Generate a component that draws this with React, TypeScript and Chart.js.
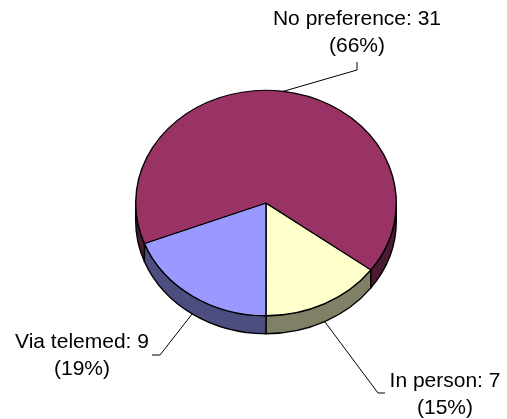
import React, { useEffect, useRef } from "react";
import { Chart, registerables } from "chart.js";

Chart.register(...registerables);

const categories = ["In person", "Via telemed", "No preference"];
const counts = [7, 9, 31];
const faceColors = ["#FFFFCC", "#9999FF", "#993366"];
const wallColors = ["#808066", "#4D4D80", "#4D1A33"];

const SQUASH = 0.865;
const DEPTH = 18;

// Leader-line elbows and label anchors, in the order of the categories.
const leaders = [
  { elbow: [378, 393], end: [385, 393], text: [445, 381] },
  { elbow: [160, 355], end: [152, 355], text: [82, 342] },
  { elbow: [357, 70], end: [357, 62], text: [357, 19] },
];
const LINE_GAP = 27;

const pie3d = {
  id: "pie3d",
  beforeDatasetsDraw(chart: any) {
    const { ctx } = chart;
    const arcs = chart.getDatasetMeta(0).data;
    ctx.save();
    ctx.strokeStyle = "#000";
    ctx.lineWidth = 1.4;
    ctx.lineJoin = "round";
    arcs.forEach((arc: any, i: number) => {
      const ry = arc.outerRadius * SQUASH;
      for (const k of [-1, 0, 1]) {
        const a = Math.max(arc.startAngle + k * 2 * Math.PI, 0);
        const b = Math.min(arc.endAngle + k * 2 * Math.PI, Math.PI);
        if (b <= a) continue;
        ctx.beginPath();
        ctx.ellipse(arc.x, arc.y, arc.outerRadius, ry, 0, a, b);
        ctx.ellipse(arc.x, arc.y + DEPTH, arc.outerRadius, ry, 0, b, a, true);
        ctx.closePath();
        ctx.fillStyle = wallColors[i];
        ctx.fill();
        ctx.stroke();
      }
    });
    ctx.restore();
    const c = arcs[0];
    ctx.save();
    ctx.translate(c.x, c.y);
    ctx.scale(1, SQUASH);
    ctx.translate(-c.x, -c.y);
  },
  afterDatasetsDraw(chart: any) {
    chart.ctx.restore();
  },
  afterDraw(chart: any) {
    const { ctx } = chart;
    const arcs = chart.getDatasetMeta(0).data;
    const total = counts.reduce((s, v) => s + v, 0);
    ctx.save();
    ctx.font = '21px "Liberation Sans", Arial, sans-serif';
    ctx.textAlign = "center";
    ctx.textBaseline = "middle";
    arcs.forEach((arc: any, i: number) => {
      const mid = (arc.startAngle + arc.endAngle) / 2;
      const sx = arc.x + arc.outerRadius * Math.cos(mid);
      const lower = Math.sin(mid) > 0;
      const sy = arc.y + arc.outerRadius * SQUASH * Math.sin(mid) + (lower ? DEPTH : 0);
      const l = leaders[i];
      ctx.beginPath();
      ctx.moveTo(sx, sy);
      ctx.lineTo(l.elbow[0], l.elbow[1]);
      ctx.lineTo(l.end[0], l.end[1]);
      ctx.strokeStyle = "#000";
      ctx.lineWidth = 1;
      ctx.stroke();
      ctx.fillStyle = "#000";
      ctx.fillText(`${categories[i]}: ${counts[i]}`, l.text[0], l.text[1]);
      ctx.fillText(`(${Math.round((counts[i] / total) * 100)}%)`, l.text[0], l.text[1] + LINE_GAP);
    });
    ctx.restore();
  },
};

export default function App() {
  const ref = useRef<HTMLCanvasElement>(null);
  useEffect(() => {
    const chart = new Chart(ref.current!, {
      type: "pie",
      data: {
        labels: categories,
        datasets: [
          {
            data: counts,
            backgroundColor: faceColors,
            borderColor: "#000",
            borderWidth: 1.4,
          },
        ],
      },
      options: {
        responsive: false,
        animation: false,
        rotation: 126.4,
        layout: { padding: { left: 135, right: 110, top: 72, bottom: 85 } },
        plugins: { legend: { display: false }, tooltip: { enabled: false } },
      },
      plugins: [pie3d],
    } as any);
    return () => chart.destroy();
  }, []);
  return (
    <div style={{ position: "absolute", left: 0, top: 0, width: 507, height: 419, background: "#fff" }}>
      <canvas ref={ref} width={507} height={419} style={{ display: "block" }} />
    </div>
  );
}
